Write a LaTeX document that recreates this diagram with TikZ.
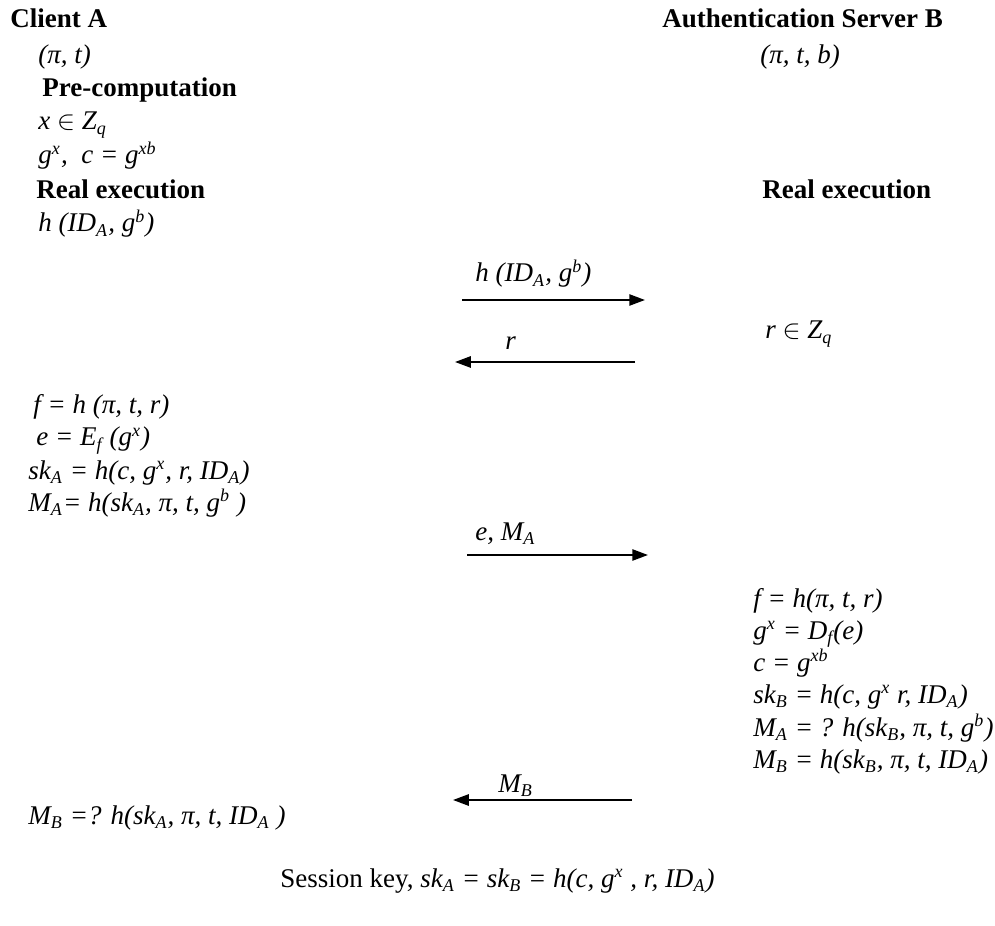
\documentclass[tikz,border=0pt]{standalone}
\usepackage{fontspec}
\setmainfont{Liberation Serif}
\usetikzlibrary{arrows.meta}
\newcommand{\lo}[1]{\textsubscript{#1}}
\newcommand{\hi}[1]{\textsuperscript{#1}}

\begin{document}
\begin{tikzpicture}[x=0.4444pt, y=-0.4444pt,
    txt/.style={anchor=base west, inner sep=0pt, font=\fontsize{12}{14}\selectfont\itshape},
    hd/.style={anchor=base west, inner sep=0pt, font=\fontsize{12}{14}\selectfont\bfseries},
    msg/.style={line width=0.8pt, -{Triangle[length=7pt,width=5pt]}}]
    \useasboundingbox (0,0) rectangle (995,926);

    \node[hd] (cliA) at (10,28) {Client A};
    \node[txt] (cliKey) at (38,64) {(π, t)};
    \node[hd] (cliPre) at (42,97) {Pre-computation};
    \node[txt] (cliX) at (38,130) {x $\in$ Z\lo{q}};
    \node[txt] (cliC) at (38,164) {g\hi{x},\ \ c = g\hi{xb}};
    \node[hd] (cliReal) at (36,199) {Real execution};
    \node[txt] (cliH) at (38,232) {h (ID\lo{A}, g\hi{b})};

    \node[hd] (srvB) at (662,28) {Authentication Server B};
    \node[txt] (srvKey) at (760,64) {(π, t, b)};
    \node[hd] (srvReal) at (762,199) {Real execution};
    \node[txt] (srvR) at (765,339) {r $\in$ Z\lo{q}};

    \coordinate (m1s) at (462,300);
    \coordinate (m1e) at (645,300);
    \draw[msg] (m1s) -- (m1e);
    \node[txt] (m1lab) at (475,282) {h (ID\lo{A}, g\hi{b})};

    \coordinate (m2s) at (635,362);
    \coordinate (m2e) at (455,362);
    \draw[msg] (m2s) -- (m2e);
    \node[txt] (m2lab) at (505,350) {r};

    \node[txt] (cliF) at (33,414) {f = h (π, t, r)};
    \node[txt] (cliE) at (36,446) {e = E\lo{f} (g\hi{x})};
    \node[txt] (cliSk) at (28,479) {sk\lo{A} = h(c, g\hi{x}, r, ID\lo{A})};
    \node[txt] (cliMA) at (28,511) {M\lo{A}= h(sk\lo{A}, π, t, g\hi{b} )};

    \coordinate (m3s) at (467,555);
    \coordinate (m3e) at (648,555);
    \draw[msg] (m3s) -- (m3e);
    \node[txt] (m3lab) at (475,540) {e, M\lo{A}};

    \node[txt] (srvF) at (753,607) {f = h(π, t, r)};
    \node[txt] (srvG) at (753,639) {g\hi{x} = D\lo{f}(e)};
    \node[txt] (srvC) at (753,671) {c = g\hi{xb}};
    \node[txt] (srvSk) at (753,703) {sk\lo{B} = h(c, g\hi{x} r, ID\lo{A})};
    \node[txt] (srvMA) at (753,736) {M\lo{A} = ? h(sk\lo{B}, π, t, g\hi{b})};
    \node[txt] (srvMB) at (753,768) {M\lo{B} = h(sk\lo{B}, π, t, ID\lo{A})};

    \coordinate (m4s) at (632,800);
    \coordinate (m4e) at (453,800);
    \draw[msg] (m4s) -- (m4e);
    \node[txt] (m4lab) at (498,792) {M\lo{B}};

    \node[txt] (cliMB) at (28,824) {M\lo{B} =? h(sk\lo{A}, π, t, ID\lo{A} )};

    \node[txt] (sesKey) at (280,887) {\upshape Session key, \itshape sk\lo{A} = sk\lo{B} = h(c, g\hi{x} , r, ID\lo{A})};
\end{tikzpicture}
\end{document}
